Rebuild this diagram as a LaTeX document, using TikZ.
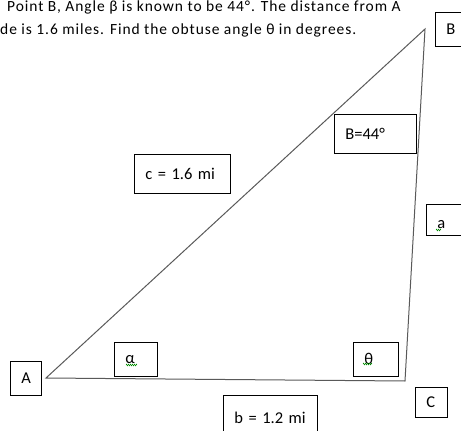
\documentclass[tikz,border=0pt]{standalone}
\usepackage{fontspec}
\setmainfont{Carlito}
\newfontfamily\topfont[LetterSpace=6]{Carlito}
\usetikzlibrary{decorations.pathmorphing}

\begin{document}
\begin{tikzpicture}[x=1pt, y=-1pt,
    lbl/.style 2 args={draw, line width=0.8pt, rectangle, anchor=north west,
      inner xsep=11pt, inner ysep=0pt, minimum width=#1, minimum height=#2,
      text width=#1-22pt, align=left, font=\fontsize{16.5}{18}\selectfont},
    side/.style={draw=black!65, line width=1pt},
    squig/.style={draw=green!55!black, line width=0.5pt, decorate,
      decoration={zigzag, segment length=2pt, amplitude=0.8pt}}]
  \clip (0,0) rectangle (461,431);
  % Problem text
  \node[anchor=base west, inner sep=0pt, font=\topfont\fontsize{15.5}{18}\selectfont] (line1) at (7,11)
    {Point B, Angle β is known to be 44°. The distance from A};
  \node[anchor=base west, inner sep=0pt, font=\topfont\fontsize{15.5}{18}\selectfont] (line2) at (0,34.5)
    {de is 1.6 miles. Find the obtuse angle θ in degrees.};
  % Triangle corners
  \coordinate (pA) at (46,378);
  \coordinate (pB) at (425,29);
  \coordinate (pC) at (405,381);
  \draw[side] (pA) -- (pB) -- (pC) -- cycle;
  % Labels
  \node[lbl={31pt}{34pt}] (A) at (10,361) {A};
  \node[lbl={40pt}{34pt}] (B) at (435,12) {B};
  \node[lbl={32pt}{30pt}] (C) at (415,387) {C};
  \node[lbl={82pt}{39pt}] (angB) at (334,114) {B=44°};
  \node[lbl={96pt}{39pt}] (sidec) at (134,154) {c = 1.6 mi};
  \node[lbl={45pt}{31pt}, text height=17pt] (sidea) at (426,204) {a};
  \node[lbl={94pt}{45pt}] (sideb) at (223,395) {b = 1.2 mi};
  \node[lbl={43pt}{34pt}] (alpha) at (114,342) {α};
  \node[lbl={45pt}{34pt}] (theta) at (353,342) {θ};
  % Spelling marks
  \draw[squig] (126,365) -- (137,365);
  \draw[squig] (363,364) -- (372,364);
  \draw[squig] (436,230) -- (441,230);
\end{tikzpicture}
\end{document}
